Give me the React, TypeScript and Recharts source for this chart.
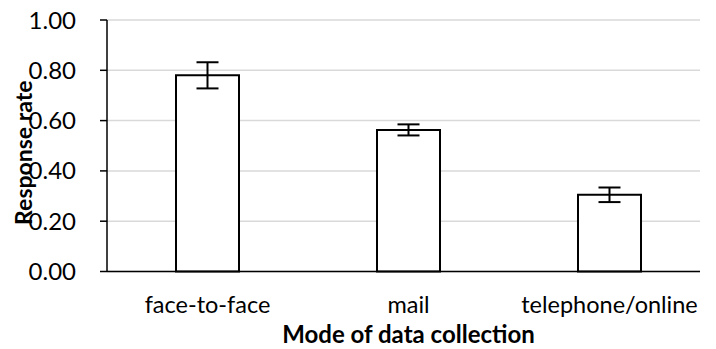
import React from "react";
import { BarChart, Bar, XAxis, YAxis, CartesianGrid, ErrorBar, Label } from "recharts";

const categories = ["face-to-face", "mail", "telephone/online"];
const rates = [0.78, 0.563, 0.305];
const errors = [0.052, 0.022, 0.029];
const yTicks = [0, 0.2, 0.4, 0.6, 0.8, 1.0];

const data = categories.map((mode, i) => ({ mode, rate: rates[i], err: errors[i] }));

const FONT = "Lato, 'Open Sans', sans-serif";

export default function App() {
    return (
        // the reference is cropped at x=700, so clip the chart there
        <div style={{ width: 700, height: 349, overflow: "hidden", margin: "-8px 0 0 -8px", fontFamily: FONT }}>
            <BarChart
                width={720}
                height={349}
                data={data}
                margin={{ top: 20, right: 10, left: 0, bottom: 0 }}
                barCategoryGap="34%"
            >
                <CartesianGrid vertical={false} stroke="#d9d9d9" strokeWidth={1.5} />
                <XAxis
                    dataKey="mode"
                    height={77.5}
                    axisLine={{ stroke: "#000", strokeWidth: 1.5 }}
                    tickLine={false}
                    tickSize={0}
                    tickMargin={25}
                    tick={{ fontSize: 23.5, fill: "#000", fontFamily: FONT }}
                    interval={0}
                >
                    <Label
                        content={({ viewBox }: any) => (
                            <text
                                x={viewBox.x + viewBox.width / 2}
                                y={viewBox.y + viewBox.height - 6}
                                textAnchor="middle"
                                fontSize={24}
                                fontWeight="bold"
                                fontFamily={FONT}
                                fill="#000"
                            >
                                Mode of data collection
                            </text>
                        )}
                    />
                </XAxis>
                <YAxis
                    width={107}
                    domain={[0, 1]}
                    ticks={yTicks}
                    tickFormatter={(v: number) => v.toFixed(2)}
                    axisLine={{ stroke: "#000", strokeWidth: 1.5 }}
                    tickLine={{ stroke: "#000", strokeWidth: 1.5 }}
                    tickSize={7}
                    tickMargin={24}
                    tick={{ fontSize: 24, fill: "#000", fontFamily: FONT }}
                    interval={0}
                >
                    <Label
                        content={({ viewBox }: any) => {
                            const cy = viewBox.y + viewBox.height / 2 + 7;
                            return (
                                <text
                                    x={32}
                                    y={cy}
                                    transform={`rotate(-90, 32, ${cy})`}
                                    textAnchor="middle"
                                    fontSize={23}
                                    fontWeight="bold"
                                    fontFamily={FONT}
                                    fill="#000"
                                >
                                    Response rate
                                </text>
                            );
                        }}
                    />
                </YAxis>
                <Bar dataKey="rate" fill="#fff" stroke="#000" strokeWidth={2} barSize={63} isAnimationActive={false}>
                    <ErrorBar dataKey="err" width={11} stroke="#000" strokeWidth={2} direction="y" isAnimationActive={false} />
                </Bar>
            </BarChart>
        </div>
    );
}
